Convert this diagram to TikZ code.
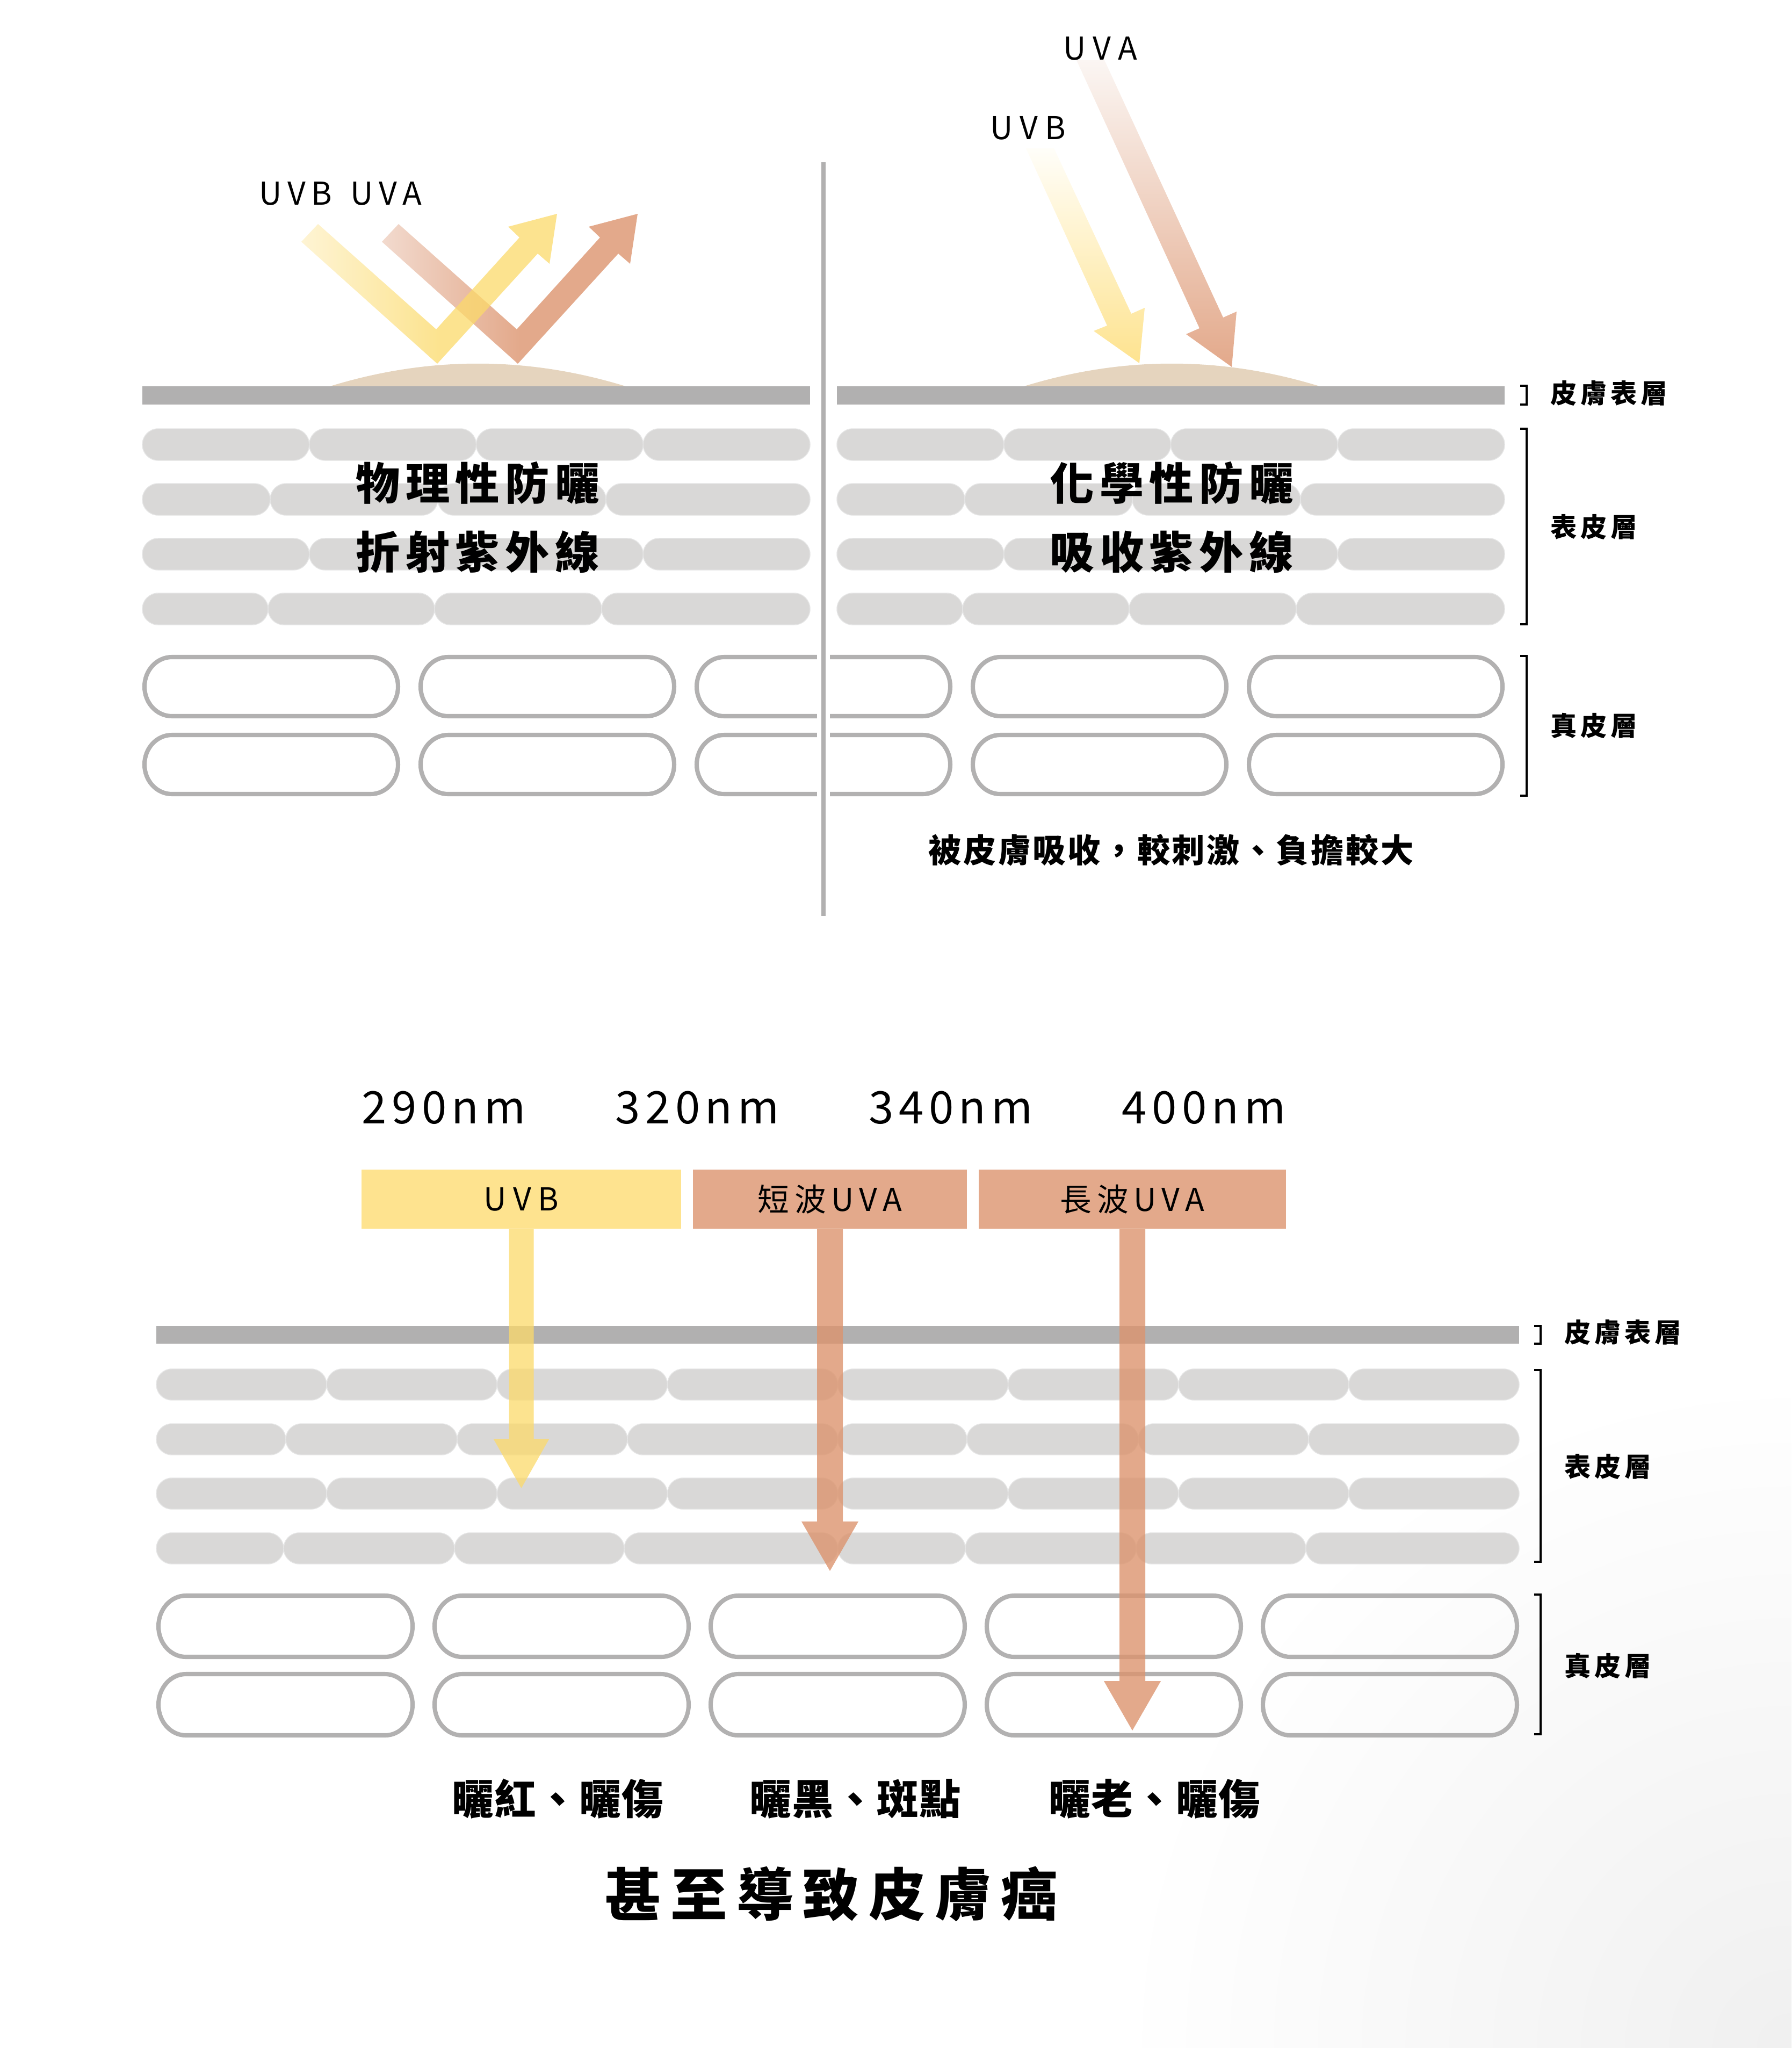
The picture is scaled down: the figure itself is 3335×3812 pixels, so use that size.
\documentclass[tikz,border=0pt]{standalone}
\usepackage{fontspec}
\setmainfont{Noto Sans CJK TC}
\usetikzlibrary{calc}

\definecolor{bargray}{RGB}{177,176,176}
\definecolor{cellgray}{RGB}{217,216,215}
\definecolor{celledge}{RGB}{229,229,229}
\definecolor{dermgray}{RGB}{178,177,177}
\definecolor{dome}{RGB}{229,212,190}
\definecolor{boxY}{RGB}{254,227,143}
\definecolor{boxO}{RGB}{227,169,139}
\definecolor{yBase}{RGB}{252,218,106}
\definecolor{oBase}{RGB}{220,148,110}
\definecolor{yPaleB}{RGB}{254,241,198}
\definecolor{oPale}{RGB}{242,218,206}
\definecolor{oFull}{RGB}{227,169,139}
\definecolor{yTop}{RGB}{255,254,249}
\definecolor{oTop}{RGB}{251,246,243}

\pgfdeclarehorizontalshading{yVshade}{100bp}{color(0bp)=(yPaleB); color(25bp)=(yPaleB); color(52bp)=(yBase); color(100bp)=(yBase)}
\pgfdeclarehorizontalshading{oVshade}{100bp}{color(0bp)=(oPale); color(25bp)=(oPale); color(52bp)=(oFull); color(100bp)=(oFull)}

\makeatletter
\def\trk#1#2{\def\trk@k{#1}\trk@loop#2\trk@end}
\def\trk@loop#1#2{#1\ifx#2\trk@end\else\kern\trk@k\expandafter\trk@loop\expandafter#2\fi}
\let\trk@end\relax
\makeatother

% pill: style, x0, y0, x1, y1, rx, ry
\newcommand\pillpath[7]{%
  \path[#1] (#2+#6,#3) -- (#4-#6,#3)
    arc[start angle=270,end angle=360,x radius=#6,y radius=#7] -- (#4,#5-#7)
    arc[start angle=0,end angle=90,x radius=#6,y radius=#7] -- (#2+#6,#5)
    arc[start angle=90,end angle=180,x radius=#6,y radius=#7] -- (#2,#3+#7)
    arc[start angle=180,end angle=270,x radius=#6,y radius=#7] -- cycle;}

\tikzset{
  ecell/.style={fill=cellgray, draw=celledge, line width=0.4pt},
  dcell/.style={draw=dermgray, line width=2.3pt},
  brk/.style={draw=black, line width=0.9pt},
  lbl/.style={inner sep=0pt, text=black},
  lat/.style={lbl, font=\fontsize{16.7pt}{20pt}\selectfont},
  wave/.style={lbl, font=\fontsize{23.7pt}{28pt}\selectfont},
  bigcjk/.style={lbl, font=\fontsize{23.4pt}{28pt}\selectfont\bfseries},
  side/.style={lbl, anchor=west, font=\fontsize{14pt}{17pt}\selectfont\bfseries},
  subt/.style={lbl, font=\fontsize{17.4pt}{20pt}\selectfont\bfseries},
  eff/.style={lbl, font=\fontsize{22pt}{26pt}\selectfont\bfseries},
  final/.style={lbl, font=\fontsize{30pt}{34pt}\selectfont\bfseries},
  cbox/.style={lbl, minimum height=1.10cm, font=\fontsize{16.7pt}{20pt}\selectfont}
}

\begin{document}
\begin{tikzpicture}[x=0.01cm, y=-0.01cm]
\useasboundingbox (0,0) rectangle (3335,3812);
\fill[white] (0,0) rectangle (3335,3812);
\begin{scope}
  \clip (0,0) rectangle (3335,3812);
  \shade[inner color=black!6, outer color=white] (3335,3812) circle[radius=1250];
\end{scope}

% ================= TOP SECTION =================
% domes
\fill[dome] (608,721) .. controls (795,662) and (984,662) .. (1171,721) -- cycle;
\fill[dome] (1900,721) .. controls (2087,662) and (2276,662) .. (2463,721) -- cycle;
% surface bars
\fill[bargray] (265,719) rectangle (1508,753);
\fill[bargray] (1558,719) rectangle (2801,753);

% epidermis cells
\foreach \yy in {798,1002}{
  \foreach \a/\b in {265/575.75,575.75/886.5,886.5/1197.25,1197.25/1508,
                     1558/1868.75,1868.75/2179.5,2179.5/2490.25,2490.25/2801}{
    \pillpath{ecell}{\a}{\yy}{\b}{\yy+59}{29.5}{29.5}}}
\foreach \a/\b in {265/503,503/815,815/1128,1128/1508,1558/1796,1796/2108,2108/2421,2421/2801}{
  \pillpath{ecell}{\a}{900}{\b}{959}{29.5}{29.5}}
\foreach \a/\b in {265/499,499/809,809/1120,1120/1508,1558/1792,1792/2102,2102/2413,2413/2801}{
  \pillpath{ecell}{\a}{1104}{\b}{1163}{29.5}{29.5}}

% dermis cells
\foreach \xx in {265,779,1293,1807,2321}{
  \foreach \yy in {1223,1368}{
    \pillpath{dcell}{\xx+4}{\yy}{\xx+476}{\yy+110}{51}{55}}}
\fill[white] (1521,1200) rectangle (1545,1500);
% divider
\fill[bargray] (1529,302) rectangle (1537,1705);

% reflected rays (physical)
\shade[shading=oVshade] (711,450) -- (742,417) -- (962,613) -- (1117,442) -- (1096,422)
  -- (1187,398) -- (1173,491) -- (1151,472) -- (964,677) -- cycle;
\shade[shading=yVshade, fill opacity=0.75] (561,450) -- (592,417) -- (812,613) -- (967,442)
  -- (946,422) -- (1037,398) -- (1023,491) -- (1001,472) -- (814,677) -- cycle;

% absorbed rays (chemical)
\shade[top color=yTop, bottom color=boxY] (1910,276) -- (1962,276) -- (2106,584) -- (2131,573)
  -- (2121,676) -- (2036,616) -- (2061,606) -- cycle;
\shade[top color=oTop, bottom color=boxO] (2004,112) -- (2056,112) -- (2277,591) -- (2302,580)
  -- (2293,683) -- (2208,622) -- (2233,611) -- cycle;

% labels top
\node[lat] (tUVBUVA) at (634,360) {\trk{3pt}{UVB\ UVA}};
\node[lat] (tUVB) at (1914,238) {\trk{3.7pt}{UVB}};
\node[lat] (tUVA) at (2048,90) {\trk{3.7pt}{UVA}};
\node[bigcjk] (phys1) at (889,899) {\trk{3pt}{物理性防曬}};
\node[bigcjk] (phys2) at (889,1027) {\trk{3pt}{折射紫外線}};
\node[bigcjk] (chem1) at (2181,899) {\trk{3pt}{化學性防曬}};
\node[bigcjk] (chem2) at (2181,1027) {\trk{3pt}{吸收紫外線}};
\node[subt] (chemnote) at (2180,1582) {\trk{1pt}{被皮膚吸收，較刺激、負擔較大}};

% brackets & layer names, top
\draw[brk] (2830,718) -- (2842,718) -- (2842,753) -- (2830,753);
\draw[brk] (2830,798) -- (2842,798) -- (2842,1162) -- (2830,1162);
\draw[brk] (2830,1221) -- (2842,1221) -- (2842,1481) -- (2830,1481);
\node[side] (tL1) at (2886,732) {\trk{1.9pt}{皮膚表層}};
\node[side] (tL2) at (2886,981) {\trk{1.9pt}{表皮層}};
\node[side] (tL3) at (2886,1351) {\trk{1.9pt}{真皮層}};

% ================= BOTTOM SECTION =================
\node[wave] (w290) at (826,2062) {\trk{2.7pt}{290nm}};
\node[wave] (w320) at (1298,2062) {\trk{2.7pt}{320nm}};
\node[wave] (w340) at (1770,2062) {\trk{2.7pt}{340nm}};
\node[wave] (w400) at (2241,2062) {\trk{2.7pt}{400nm}};

\node[cbox, fill=boxY, minimum width=5.95cm] (bUVB) at (970.5,2232) {\trk{3.5pt}{UVB}};
\node[cbox, fill=boxO, minimum width=5.10cm] (bSA) at (1545,2232) {\trk{2.8pt}{短波UVA}};
\node[cbox, fill=boxO, minimum width=5.72cm] (bLA) at (2108,2232) {\trk{2.8pt}{長波UVA}};

\fill[bargray] (291,2468) rectangle (2828,2501);

\foreach \yy in {2548,2751}{
  \foreach \a/\b in {291/608.1,608.1/925.3,925.3/1242.4,1242.4/1559.5,1559.5/1876.6,1876.6/2193.8,2193.8/2510.9,2510.9/2828}{
    \pillpath{ecell}{\a}{\yy}{\b}{\yy+58}{29}{29}}}
\foreach \a/\b in {291/532,532/851,851/1168,1168/1559.5,1559.5/1800,1800/2119,2119/2436,2436/2828}{
  \pillpath{ecell}{\a}{2650}{\b}{2708}{29}{29}}
\foreach \a/\b in {291/528,528/846,846/1162,1162/1559.5,1559.5/1797,1797/2115,2115/2431,2431/2828}{
  \pillpath{ecell}{\a}{2853}{\b}{2911}{29}{29}}

\foreach \xx in {291,805,1319,1833,2347}{
  \foreach \yy in {2970,3116}{
    \pillpath{dcell}{\xx+4}{\yy}{\xx+477}{\yy+114}{51}{57}}}

% penetration arrows
\coordinate (tipB) at (970.5,2770);
\coordinate (tipS) at (1545,2924);
\coordinate (tipL) at (2108,3221);
\fill[yBase, fill opacity=0.75] ($(bUVB.south)+(-23,0)$) -- ($(tipB)+(-23,-92)$) -- ($(tipB)+(-52,-92)$)
  -- (tipB) -- ($(tipB)+(52,-92)$) -- ($(tipB)+(23,-92)$) -- ($(bUVB.south)+(23,0)$) -- cycle;
\fill[oBase, fill opacity=0.8] ($(bSA.south)+(-24,0)$) -- ($(tipS)+(-24,-92)$) -- ($(tipS)+(-53,-92)$)
  -- (tipS) -- ($(tipS)+(53,-92)$) -- ($(tipS)+(24,-92)$) -- ($(bSA.south)+(24,0)$) -- cycle;
\fill[oBase, fill opacity=0.8] ($(bLA.south)+(-24,0)$) -- ($(tipL)+(-24,-92)$) -- ($(tipL)+(-53,-92)$)
  -- (tipL) -- ($(tipL)+(53,-92)$) -- ($(tipL)+(24,-92)$) -- ($(bLA.south)+(24,0)$) -- cycle;

% brackets & layer names, bottom
\draw[brk] (2856,2468) -- (2868,2468) -- (2868,2501) -- (2856,2501);
\draw[brk] (2856,2550) -- (2868,2550) -- (2868,2907) -- (2856,2907);
\draw[brk] (2856,2968) -- (2868,2968) -- (2868,3228) -- (2856,3228);
\node[side] (bL1) at (2912,2480) {\trk{1.9pt}{皮膚表層}};
\node[side] (bL2) at (2912,2730) {\trk{1.9pt}{表皮層}};
\node[side] (bL3) at (2912,3101) {\trk{1.9pt}{真皮層}};

% effects
\node[eff] (e1) at (1038,3348) {\trk{0.5pt}{曬紅、曬傷}};
\node[eff] (e2) at (1592,3348) {\trk{0.5pt}{曬黑、斑點}};
\node[eff] (e3) at (2149,3348) {\trk{0.5pt}{曬老、曬傷}};
\node[final] (cancer) at (1547,3525) {\trk{5pt}{甚至導致皮膚癌}};
\end{tikzpicture}
\end{document}
